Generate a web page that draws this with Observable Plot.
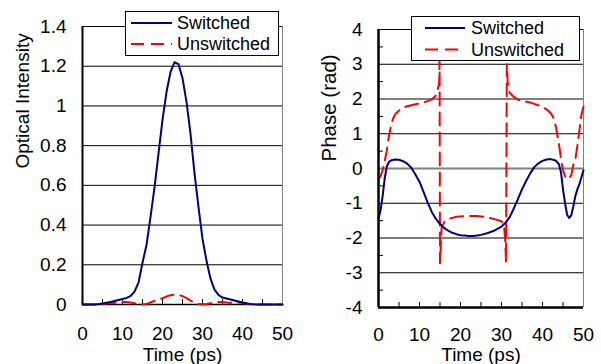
<!DOCTYPE html>
<html><head><meta charset="utf-8">
<script src="https://cdn.jsdelivr.net/npm/d3@7"></script>
<script src="https://cdn.jsdelivr.net/npm/@observablehq/plot@0.6"></script>
<style>
html,body{margin:0;padding:0;background:#fff;}
#chart{position:relative;width:601px;height:364px;overflow:hidden;background:#fff;}
#chart > svg{position:absolute;top:0;}
</style></head><body><div id="chart"></div>
<script>
// ---- data ----
const seriesNames = ["Switched", "Unswitched"];
const seriesColors = ["#000080", "#FF0000"];

// Left panel: optical intensity vs time (ps)
const intensityTime = [0,1,2,3,4,5,6,7,8,9,10,11,12,13,14,15,16,17,18,19,20,21,22,23,24,25,26,27,28,29,30,31,32,33,34,35,36,37,38,39,40,41,42,43,44,45,46,47,48,49,50];
const intensitySwitched = [0,0,0,0,0.002,0.005,0.009,0.013,0.018,0.023,0.028,0.033,0.042,0.065,0.11,0.21,0.3,0.44,0.59,0.76,0.93,1.07,1.17,1.22,1.21,1.14,1.02,0.86,0.66,0.49,0.33,0.22,0.13,0.075,0.048,0.035,0.03,0.025,0.02,0.015,0.01,0.006,0.003,0.001,0,0,0,0,0,0,0];
const intensityUnswitched = [0,0,0,0,0,0.003,0.005,0.008,0.009,0.01,0.012,0.012,0.01,0.006,0.002,0,0.003,0.01,0.018,0.025,0.032,0.04,0.047,0.05,0.048,0.042,0.032,0.02,0.01,0.003,0,0.002,0.006,0.01,0.012,0.012,0.01,0.008,0.01,0.01,0.007,0.004,0.001,0,0,0,0,0,0,0,0];

// Right panel: phase (rad) vs time (ps)
const phaseSwitchedTime = [0,0.5,1,1.5,2,2.5,3,4,5,6,7,8,9,10,11,12,13,14,15,16,17,18,19,20,21,22,23,24,25,26,27,28,29,30,31,32,33,34,35,36,37,38,39,40,41,42,43,43.5,44,44.5,45,45.5,46,46.5,47,47.5,48,48.5,49,49.5,50];
const phaseSwitched = [-1.44,-1.2,-0.8,-0.3,0.05,0.18,0.23,0.26,0.25,0.21,0.14,0.02,-0.17,-0.38,-0.68,-0.98,-1.25,-1.45,-1.6,-1.71,-1.79,-1.85,-1.89,-1.92,-1.93,-1.94,-1.94,-1.93,-1.91,-1.88,-1.84,-1.8,-1.74,-1.67,-1.56,-1.4,-1.15,-0.88,-0.6,-0.36,-0.14,0.04,0.15,0.22,0.26,0.27,0.24,0.2,0.12,-0.1,-0.6,-1.0,-1.33,-1.42,-1.35,-1.1,-0.8,-0.6,-0.45,-0.25,-0.05];
const phaseUnswitchedTime = [0,0.5,1,1.5,2,2.5,3,3.5,4,5,6,7,8,9,10,11,12,13,14,14.5,14.8,14.9,15,15.4,16,17,18,19,20,21,22,23,24,25,26,27,28,29,30,30.6,30.9,31.1,31.3,31.6,32,33,34,35,36,37,38,39,40,41,42,42.5,43,43.5,44,44.5,45,45.5,46,46.5,47,47.5,48,48.5,49,49.5,50];
const phaseUnswitched = [-0.3,-0.22,-0.05,0.2,0.5,0.9,1.2,1.42,1.55,1.67,1.75,1.79,1.82,1.85,1.87,1.9,1.94,1.99,2.1,2.3,2.5,3.1,-2.73,-1.7,-1.55,-1.46,-1.42,-1.39,-1.38,-1.37,-1.37,-1.37,-1.37,-1.38,-1.4,-1.42,-1.45,-1.48,-1.52,-1.62,-2.05,-2.7,3.0,2.3,2.18,2.06,1.98,1.94,1.92,1.9,1.86,1.82,1.77,1.7,1.6,1.5,1.35,1.05,0.7,0.3,-0.05,-0.22,-0.3,-0.28,-0.2,0.1,0.25,0.65,1.1,1.55,1.78];

// ticks
const timeTicks = [0,10,20,30,40,50];
const timeMinorTicks = [5,10,15,20,25,30,35,40,45];
const intensityTicks = [0,0.2,0.4,0.6,0.8,1,1.2,1.4];
const intensityGrid = [0.2,0.4,0.6,0.8,1,1.2];
const phaseTicks = [-4,-3,-2,-1,0,1,2,3,4];
const phaseGrid = [-3,-2,-1,1,2,3];
const phaseMinorTicks = [-3.5,-2.5,-1.5,-0.5,0.5,1.5,2.5,3.5];

const xTitle = "Time (ps)";
const yTitleLeft = "Optical Intensity";
const yTitleRight = "Phase (rad)";

// ---- drawing ----
const FONT = "'Liberation Sans', Arial, sans-serif";
const toRows = (xs, ys) => xs.map((x, i) => ({x, y: ys[i]}));
const fmt = d => String(+(+d).toFixed(2));

const left = Plot.plot({
  width: 300, height: 364,
  marginLeft: 82, marginRight: 18, marginTop: 26, marginBottom: 60,
  x: {domain: [0, 50]},
  y: {domain: [0, 1.4]},
  style: {fontFamily: FONT, fontSize: "19px", color: "black", background: "transparent", overflow: "visible"},
  marks: [
    Plot.ruleY(intensityGrid, {stroke: "black", strokeWidth: 1}),
    Plot.ruleX([50], {stroke: "#808080", strokeWidth: 1}),
    Plot.ruleY([1.4], {stroke: "black", strokeWidth: 1}),
    Plot.axisX(timeMinorTicks, {anchor: "bottom", tickSize: 5, dy: -5, tickFormat: () => "", label: null}),
    Plot.axisX(timeTicks, {anchor: "bottom", tickSize: 0, tickPadding: 22, tickFormat: fmt, label: null, fontSize: 19}),
    Plot.axisY(intensityTicks, {anchor: "left", tickSize: 0, tickPadding: 16, tickFormat: fmt, label: null, fontSize: 19}),
    Plot.ruleY([0], {stroke: "black", strokeWidth: 1.5}),
    Plot.line(toRows(intensityTime, intensityUnswitched), {x: "x", y: "y", stroke: seriesColors[1], strokeWidth: 2, strokeDasharray: "13,7"}),
    Plot.line(toRows(intensityTime, intensitySwitched), {x: "x", y: "y", stroke: seriesColors[0], strokeWidth: 2}),
    Plot.ruleX([0], {stroke: "black", strokeWidth: 2}),
    Plot.text([yTitleLeft], {text: d => d, frameAnchor: "left", rotate: -90, dx: -60, dy: 3, lineAnchor: "middle", fontSize: 19}),
    Plot.text([xTitle], {text: d => d, frameAnchor: "bottom", dy: 50, lineAnchor: "middle", fontSize: 19})
  ]
});
left.style.left = "0px";

const right = Plot.plot({
  width: 301, height: 364,
  marginLeft: 78, marginRight: 18, marginTop: 29, marginBottom: 57,
  x: {domain: [0, 50]},
  y: {domain: [-4, 4]},
  style: {fontFamily: FONT, fontSize: "19px", color: "black", background: "transparent", overflow: "visible"},
  marks: [
    Plot.ruleY(phaseGrid, {stroke: "black", strokeWidth: 1}),
    Plot.ruleY([0], {stroke: "#808080", strokeWidth: 2}),
    Plot.ruleX([50], {stroke: "#808080", strokeWidth: 1}),
    Plot.ruleY([4], {stroke: "black", strokeWidth: 1}),
    Plot.axisX(timeMinorTicks, {anchor: "bottom", tickSize: 5, dy: -5, tickFormat: () => "", label: null}),
    Plot.axisY(phaseMinorTicks, {anchor: "left", tickSize: 5, dx: 5, tickFormat: () => "", label: null}),
    Plot.axisX(timeTicks, {anchor: "bottom", tickSize: 0, tickPadding: 20, tickFormat: fmt, label: null, fontSize: 19}),
    Plot.axisY(phaseTicks, {anchor: "left", tickSize: 0, tickPadding: 16, tickFormat: fmt, label: null, fontSize: 19}),
    Plot.line(toRows(phaseUnswitchedTime, phaseUnswitched), {x: "x", y: "y", stroke: seriesColors[1], strokeWidth: 2, strokeDasharray: "13,7"}),
    Plot.line(toRows(phaseSwitchedTime, phaseSwitched), {x: "x", y: "y", stroke: seriesColors[0], strokeWidth: 2}),
    Plot.ruleX([0], {stroke: "black", strokeWidth: 2.5}),
    Plot.ruleY([-4], {stroke: "black", strokeWidth: 2.5}),
    Plot.text([yTitleRight], {text: d => d, frameAnchor: "left", rotate: -90, dx: -49, dy: -7, lineAnchor: "middle", fontSize: 20.5}),
    Plot.text([xTitle], {text: d => d, frameAnchor: "bottom", dy: 47, lineAnchor: "middle", fontSize: 19})
  ]
});
right.style.left = "300px";

const chart = document.getElementById("chart");
chart.appendChild(left);
chart.appendChild(right);

// legends (overlay)
const overlay = d3.select(chart).append("svg")
  .attr("width", 601).attr("height", 364)
  .style("position", "absolute").style("left", "0px").style("top", "0px");

function drawLegend(box, lineX1, lineX2, rowsY, textX) {
  const g = overlay.append("g");
  g.append("rect").attr("x", box[0] + 0.5).attr("y", box[1] + 0.5)
    .attr("width", box[2]).attr("height", box[3])
    .attr("fill", "white").attr("stroke", "black").attr("stroke-width", 1);
  seriesNames.forEach((name, i) => {
    g.append("line").attr("x1", lineX1).attr("x2", lineX2)
      .attr("y1", rowsY[i]).attr("y2", rowsY[i])
      .attr("stroke", seriesColors[i]).attr("stroke-width", 2)
      .attr("stroke-dasharray", i === 1 ? "13,7" : null);
    g.append("text").attr("x", textX).attr("y", rowsY[i]).attr("dy", "0.36em")
      .attr("font-family", FONT).attr("font-size", 18).attr("fill", "black")
      .text(name);
  });
}
drawLegend([125, 11, 153, 44], 131, 172, [23, 44], 177);
drawLegend([411, 16, 168, 44], 425, 465, [28, 49.5], 471);
</script></body></html>
